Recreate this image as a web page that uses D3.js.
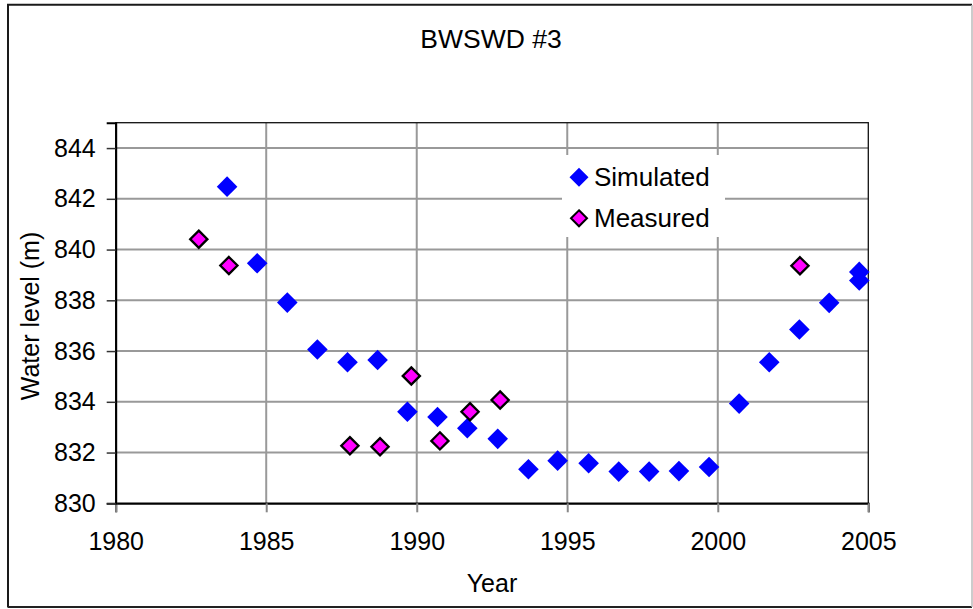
<!DOCTYPE html>
<html>
<head>
<meta charset="utf-8">
<script src="https://cdn.jsdelivr.net/npm/d3@7"></script>
<style>
  html, body { margin: 0; padding: 0; background: #fff; }
  svg { display: block; }
  text { font-family: "Liberation Sans", Arial, sans-serif; fill: #000; }
</style>
</head>
<body>
<svg id="chart" width="973" height="609"></svg>
<script>
// Simulated water levels (decimal year, metres)
const simYears = [1983.70, 1984.70, 1985.70, 1986.70, 1987.70, 1988.70, 1989.69, 1990.69,
  1991.68, 1992.69, 1993.71, 1994.68, 1995.71, 1996.71, 1997.72, 1998.71, 1999.71,
  2000.71, 2001.71, 2002.71, 2003.70, 2004.70, 2004.70];
const simLevels = [842.48, 839.46, 837.91, 836.06, 835.56, 835.65, 833.61, 833.40,
  832.96, 832.54, 831.34, 831.68, 831.58, 831.25, 831.25, 831.27, 831.43,
  833.93, 835.56, 836.85, 837.90, 839.12, 838.78];

// Measured water levels
const measYears = [1982.76, 1983.76, 1987.78, 1988.78, 1989.82, 1990.77, 1991.77, 1992.77, 2002.73];
const measLevels = [840.41, 839.37, 832.27, 832.23, 835.02, 832.46, 833.61, 834.07, 839.36];

const xTicks = [1980, 1985, 1990, 1995, 2000, 2005];
const yTicks = [830, 832, 834, 836, 838, 840, 842, 844];
const seriesNames = ["Simulated", "Measured"];

const svg = d3.select("#chart");
const plot = { left: 115.7, right: 868.3, top: 122.7, bottom: 503.3 };

const x = d3.scaleLinear().domain([1980, 2005]).range([plot.left, plot.right]);
const y = d3.scaleLinear().domain([830, 845]).range([plot.bottom, plot.top]);

// outer chart frame
svg.append("rect").attr("x", 8).attr("y", 5).attr("width", 964).attr("height", 602)
  .attr("fill", "#fff").attr("stroke", "none");
svg.append("path").attr("d", "M8,607.5 L8,4.8 L972,4.8").attr("fill", "none")
  .attr("stroke", "#1a1a1a").attr("stroke-width", 2);
svg.append("path").attr("d", "M8,607 L972,607").attr("stroke", "#222").attr("stroke-width", 2.2);
svg.append("path").attr("d", "M972,5 L972,607").attr("stroke", "#bbb").attr("stroke-width", 1.5);

// title
svg.append("text").attr("x", 491).attr("y", 48).attr("text-anchor", "middle")
  .style("font-size", "26.5px").text("BWSWD #3");

// gridlines
const grid = svg.append("g").attr("stroke", "#999").attr("stroke-width", 2);
grid.selectAll("line.v").data(xTicks.filter(d => d > 1980 && d < 2005)).join("line")
  .attr("x1", d => x(d)).attr("x2", d => x(d)).attr("y1", plot.top).attr("y2", plot.bottom);
grid.selectAll("line.h").data(yTicks.filter(d => d > 830)).join("line")
  .attr("x1", plot.left).attr("x2", plot.right).attr("y1", d => y(d)).attr("y2", d => y(d));

// plot area border
svg.append("rect").attr("x", plot.left).attr("y", plot.top)
  .attr("width", plot.right - plot.left).attr("height", plot.bottom - plot.top)
  .attr("fill", "none").attr("stroke", "#111").attr("stroke-width", 1.3);

// axes
const xAxis = d3.axisBottom(x).tickValues(xTicks).tickFormat(d3.format("d")).tickSize(9).tickPadding(20);
const gx = svg.append("g").attr("transform", `translate(0,${plot.bottom})`).call(xAxis);
gx.select(".domain").attr("stroke", "#000").attr("stroke-width", 2);
gx.selectAll(".tick line").attr("stroke", "#888").attr("stroke-width", 2);
gx.selectAll(".tick text").style("font-size", "25px").style("font-family", "'Liberation Sans', Arial, sans-serif");

const yAxis = d3.axisLeft(y).tickValues(yTicks).tickSize(9).tickPadding(11);
const gy = svg.append("g").attr("transform", `translate(${plot.left},0)`).call(yAxis);
gy.select(".domain").attr("stroke", "#000").attr("stroke-width", 2);
gy.selectAll(".tick line").attr("stroke", "#333").attr("stroke-width", 1.5);
gy.selectAll(".tick text").style("font-size", "25px").style("font-family", "'Liberation Sans', Arial, sans-serif");

// axis titles
svg.append("text").attr("x", 492).attr("y", 592).attr("text-anchor", "middle")
  .style("font-size", "25px").text("Year");
svg.append("text").attr("transform", "translate(39,316) rotate(-90)").attr("text-anchor", "middle")
  .style("font-size", "25px").text("Water level (m)");

// diamond marker path with half-diagonal r
const diamond = r => `M0,${-r} L${r},0 L0,${r} L${-r},0 Z`;

const simData = simYears.map((t, i) => ({ t, v: simLevels[i] }));
const measData = measYears.map((t, i) => ({ t, v: measLevels[i] }));

svg.append("g").selectAll("path").data(simData).join("path")
  .attr("transform", d => `translate(${x(d.t)},${y(d.v)})`)
  .attr("d", diamond(10.3)).attr("fill", "#0000ff");

svg.append("g").selectAll("path").data(measData).join("path")
  .attr("transform", d => `translate(${x(d.t)},${y(d.v)})`)
  .attr("d", diamond(8.6)).attr("fill", "#ff00ff").attr("stroke", "#000").attr("stroke-width", 2.3);

// legend
const legend = svg.append("g");
legend.append("rect").attr("x", 562).attr("y", 155).attr("width", 163).attr("height", 82).attr("fill", "#fff");
const legendRows = [
  { name: seriesNames[0], y: 177.3, fill: "#0000ff", stroke: "none", r: 9.5 },
  { name: seriesNames[1], y: 218.3, fill: "#ff00ff", stroke: "#000", r: 8 }
];
legendRows.forEach(row => {
  legend.append("path").attr("transform", `translate(579,${row.y})`).attr("d", diamond(row.r))
    .attr("fill", row.fill).attr("stroke", row.stroke).attr("stroke-width", 2);
  legend.append("text").attr("x", 594).attr("y", row.y + 8.5).style("font-size", "26px").text(row.name);
});
</script>
</body>
</html>
